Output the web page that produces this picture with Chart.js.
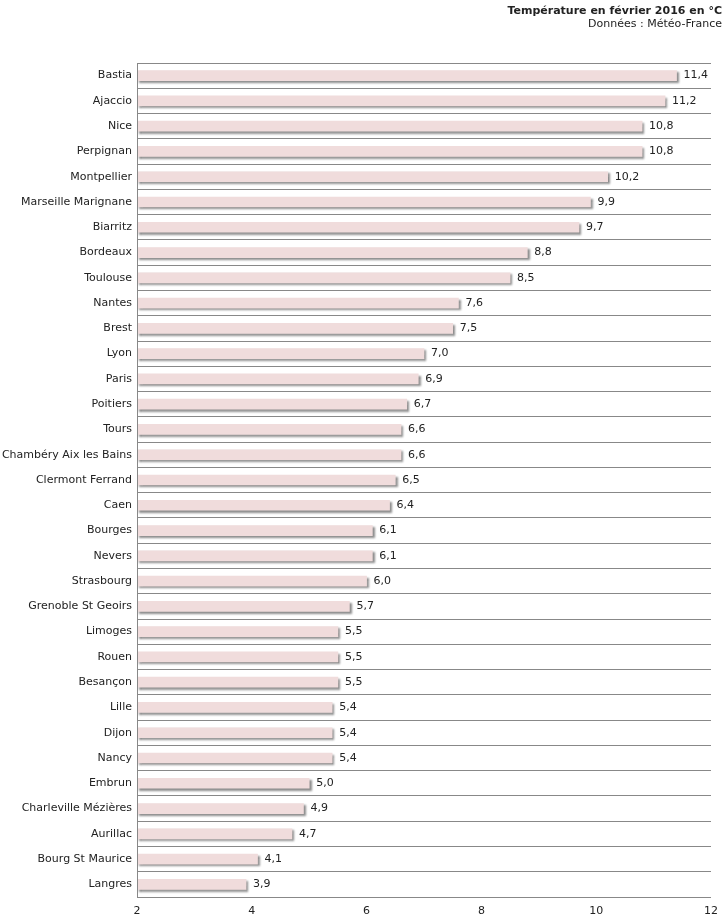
<!DOCTYPE html>
<html><head><meta charset="utf-8">
<script src="https://cdn.jsdelivr.net/npm/chart.js@4/dist/chart.umd.min.js"></script>
<style>body{margin:0;background:#fff}#wrap{width:727px;height:922px}</style>
</head><body><div id="wrap"><canvas id="c"></canvas></div>
<script>
const cities = ["Bastia","Ajaccio","Nice","Perpignan","Montpellier","Marseille Marignane","Biarritz","Bordeaux","Toulouse","Nantes","Brest","Lyon","Paris","Poitiers","Tours","Chambéry Aix les Bains","Clermont Ferrand","Caen","Bourges","Nevers","Strasbourg","Grenoble St Geoirs","Limoges","Rouen","Besançon","Lille","Dijon","Nancy","Embrun","Charleville Mézières","Aurillac","Bourg St Maurice","Langres"];
const temps = [11.4,11.2,10.8,10.8,10.2,9.9,9.7,8.8,8.5,7.6,7.5,7.0,6.9,6.7,6.6,6.6,6.5,6.4,6.1,6.1,6.0,5.7,5.5,5.5,5.5,5.4,5.4,5.4,5.0,4.9,4.7,4.1,3.9];
const xTicks = [2,4,6,8,10,12];
const fmt = v => v.toFixed(1).replace(".", ",");
const FONT = "DejaVu Sans";

const extras = {
  id: "extras",
  beforeDatasetDraw(chart) {
    const ctx = chart.ctx;
    ctx.save();
    ctx.shadowColor = "rgba(0,0,0,0.45)";
    ctx.shadowOffsetX = 2; ctx.shadowOffsetY = 2; ctx.shadowBlur = 2;
  },
  afterDatasetDraw(chart) { chart.ctx.restore(); },
  afterDraw(chart) {
    const ctx = chart.ctx, meta = chart.getDatasetMeta(0);
    ctx.save();
    ctx.font = "11px " + FONT;
    ctx.fillStyle = "#222";
    ctx.textBaseline = "middle";
    meta.data.forEach((b, i) => ctx.fillText(fmt(temps[i]), b.x + 7, b.y));
    ctx.textAlign = "right";
    ctx.font = "bold 11px " + FONT;
    ctx.fillText("Température en février 2016 en °C", 722, 11);
    ctx.font = "11px " + FONT;
    ctx.fillText("Données : Météo-France", 722, 24);
    // frame
    const a = chart.chartArea;
    ctx.strokeStyle = "#888"; ctx.lineWidth = 1;
    ctx.beginPath();
    ctx.moveTo(a.left + 0.5, a.top); ctx.lineTo(a.left + 0.5, a.bottom);
    ctx.stroke();
    ctx.restore();
  }
};

new Chart(document.getElementById("c"), {
  type: "bar",
  data: { labels: cities, datasets: [{ data: temps, base: 2, backgroundColor: "#f0dcdc", barThickness: 10, borderSkipped: false }] },
  options: {
    indexAxis: "y", responsive: true, maintainAspectRatio: false, animation: false,
    layout: { padding: { top: 63, right: 16, left: 0, bottom: 0 } },
    plugins: { legend: { display: false }, tooltip: { enabled: false } },
    scales: {
      x: {
        min: 2, max: 12,
        afterBuildTicks: s => { s.ticks = xTicks.map(v => ({ value: v })); },
        grid: { display: false, drawTicks: false },
        border: { display: false },
        ticks: { color: "#222", font: { family: FONT, size: 11 }, padding: 8 },
        afterFit: s => { s.height = 25; }
      },
      y: {
        grid: { offset: true, color: "#888", drawTicks: false },
        border: { display: false },
        ticks: { color: "#222", font: { family: FONT, size: 11 }, padding: 5, autoSkip: false },
        afterFit: s => { s.width = 137; }
      }
    }
  },
  plugins: [extras]
});
</script></body></html>
